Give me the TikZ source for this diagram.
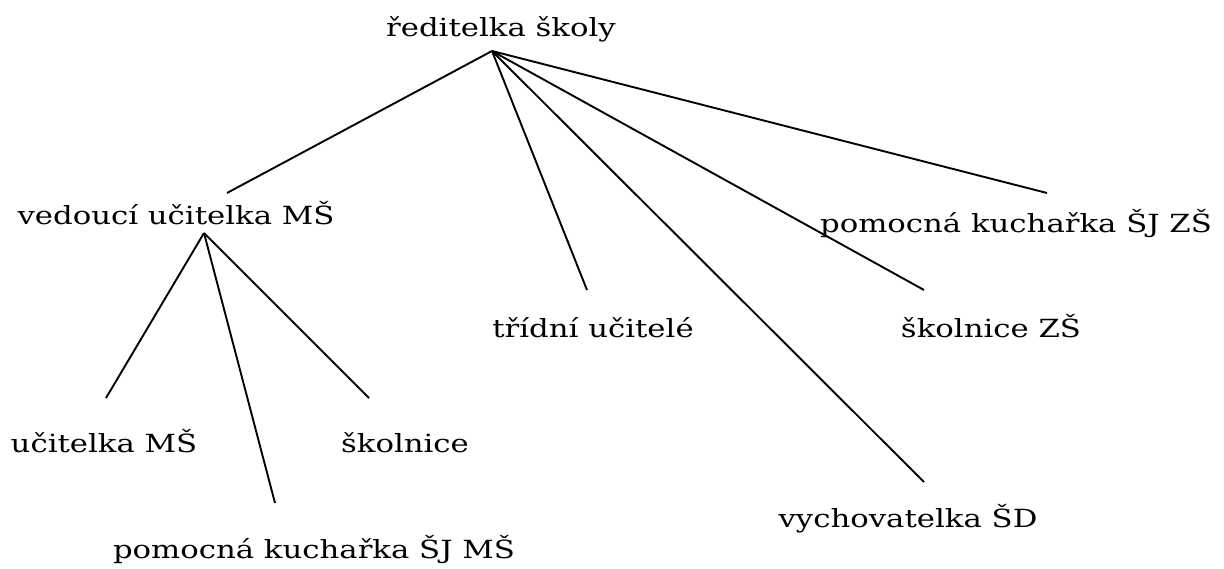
\documentclass[tikz,border=0pt]{standalone}
\usepackage{fontspec}
\setmainfont{DejaVu Serif}
\usepackage{graphicx}
\usepackage{tikz}

\newcommand{\widetext}[1]{\scalebox{1.23}[1]{#1}}

\begin{document}
\begin{tikzpicture}[x=1pt, y=-1pt,
    staff/.style={anchor=base, inner sep=0pt, font=\fontsize{25}{30}\selectfont},
    link/.style={line width=1.9pt}]
                \path[use as bounding box] (0, 0) rectangle (1224, 569);

                % top and second level
                \node[staff] (reditelka) at (501, 37) {\widetext{ředitelka školy}};
                \node[staff] (vedouci) at (176, 225) {\widetext{vedoucí učitelka MŠ}};
                \node[staff] (kucharkazs) at (1016, 233) {\widetext{pomocná kuchařka ŠJ ZŠ}};
                \node[staff] (tridni) at (593, 338) {\widetext{třídní učitelé}};
                \node[staff] (skolnicezs) at (991, 338) {\widetext{školnice ZŠ}};
                \node[staff] (vychovatelka) at (908, 527) {\widetext{vychovatelka ŠD}};

                % under the kindergarten head
                \node[staff] (ucitelka) at (104, 452) {\widetext{učitelka MŠ}};
                \node[staff] (skolnice) at (405, 452) {\widetext{školnice}};
                \node[staff] (kucharkams) at (314, 558) {\widetext{pomocná kuchařka ŠJ MŠ}};

                \draw[link] ([xshift=-9pt, yshift=-14pt]reditelka.base) -- ([xshift=51pt, yshift=32pt]vedouci.base);
                \draw[link] ([xshift=-9pt, yshift=-14pt]reditelka.base) -- ([xshift=-6pt, yshift=48pt]tridni.base);
                \draw[link] ([xshift=-9pt, yshift=-14pt]reditelka.base) -- ([xshift=16pt, yshift=45pt]vychovatelka.base);
                \draw[link] ([xshift=-9pt, yshift=-14pt]reditelka.base) -- ([xshift=-67pt, yshift=48pt]skolnicezs.base);
                \draw[link] ([xshift=-9pt, yshift=-14pt]reditelka.base) -- ([xshift=31pt, yshift=40pt]kucharkazs.base);

                \draw[link] ([xshift=28pt, yshift=-8pt]vedouci.base) -- ([xshift=2pt, yshift=54pt]ucitelka.base);
                \draw[link] ([xshift=28pt, yshift=-8pt]vedouci.base) -- ([xshift=-39pt, yshift=55pt]kucharkams.base);
                \draw[link] ([xshift=28pt, yshift=-8pt]vedouci.base) -- ([xshift=-36pt, yshift=54pt]skolnice.base);
\end{tikzpicture}
\end{document}
